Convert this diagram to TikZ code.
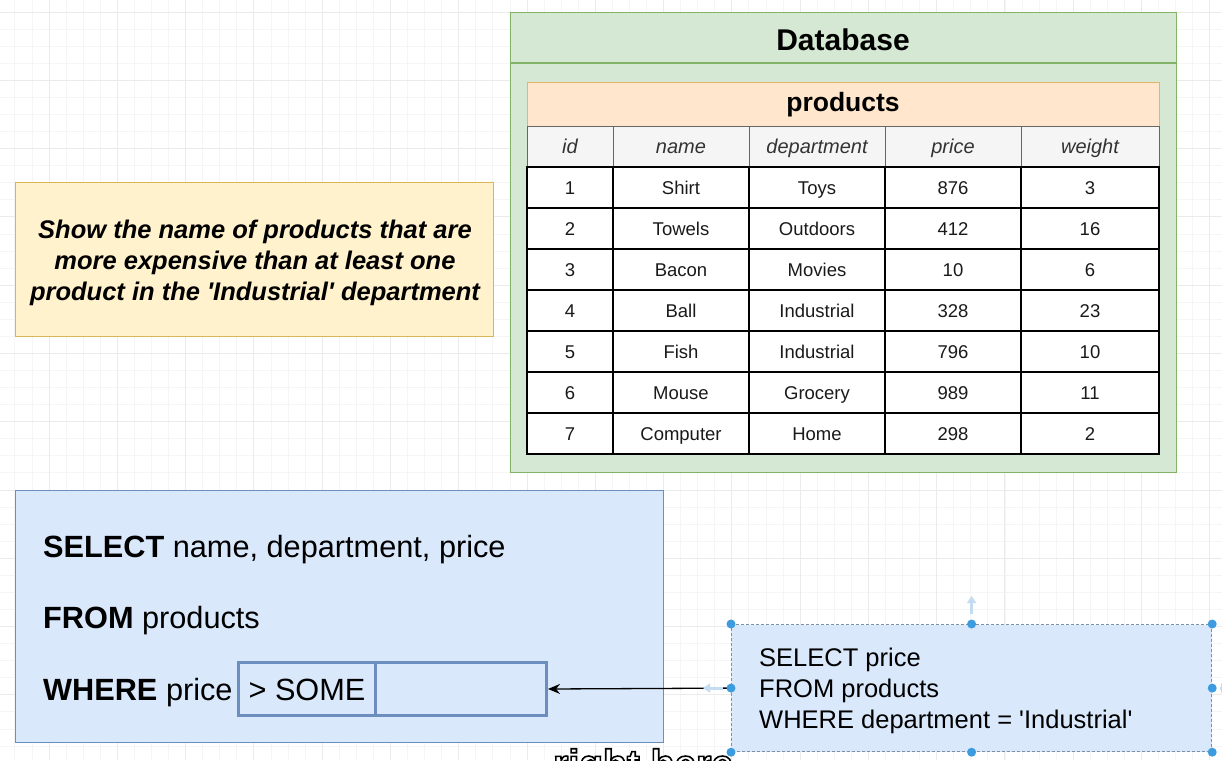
\documentclass[tikz,border=0pt]{standalone}
\usepackage{fontspec}
\setmainfont{Liberation Sans}[Ligatures=TeXOff]
\usetikzlibrary{arrows.meta}
\definecolor{dbfill}{HTML}{D5E8D4}
\definecolor{dbline}{HTML}{82B366}
\definecolor{prfill}{HTML}{FFE6CC}
\definecolor{prline}{HTML}{E3B46E}
\definecolor{yfill}{HTML}{FFF2CC}
\definecolor{yline}{HTML}{D6B656}
\definecolor{bfill}{HTML}{DAE8FC}
\definecolor{bline}{HTML}{6C8EBF}
\definecolor{hfill}{HTML}{F5F5F5}
\definecolor{hline}{HTML}{666666}
\definecolor{htext}{HTML}{333333}
\definecolor{dtext}{HTML}{1A1A1A}
\definecolor{handle}{HTML}{3D9BE0}
\definecolor{hover}{HTML}{C4DCF2}
\definecolor{gminor}{HTML}{F5F5F5}
\definecolor{gmajor}{HTML}{EBEBEB}
\definecolor{selline}{HTML}{7E8FA8}
\begin{document}
\begin{tikzpicture}[x=1pt,y=-1pt,
  box/.style={draw, rectangle, anchor=north west, inner sep=0pt, line width=1.2pt},
  hcell/.style={draw=hline, fill=hfill, line width=1pt, rectangle, inner sep=0pt,
    minimum height=41pt, text height=14.3pt, text depth=0pt, text=htext,
    font=\fontsize{20}{24}\selectfont\itshape},
  dcell/.style={draw=black, fill=white, line width=1.8pt, rectangle, inner sep=0pt,
    minimum height=41pt, text height=13.2pt, text depth=0pt, text=dtext,
    font=\fontsize{18.5}{22}\selectfont},
  qline/.style={anchor=west, inner sep=0pt, text height=22pt, text depth=0pt,
    font=\fontsize{30.7}{36}\selectfont},
  gridmin/.style={draw=gminor, line width=0.8pt},
  gridmaj/.style={draw=gmajor, line width=0.9pt},
  hov/.style={draw=hover, line width=3pt, -{Triangle[length=7pt,width=9pt]}}
]
\useasboundingbox (0,0) rectangle (1222,760);
\fill[white] (0,0) rectangle (1222,760);
% background grid
\foreach \k in {0,...,72} \draw[gridmin] ({-2.2+17.07*\k},0) -- ++(0,760);
\foreach \k in {0,...,45} \draw[gridmin] (0,{-5.07+17.07*\k}) -- ++(1222,0);
\foreach \k in {0,...,18} \draw[gridmaj] ({-19.28+68.28*\k},0) -- ++(0,760);
\foreach \k in {0,...,11} \draw[gridmaj] (0,{12+68.28*\k}) -- ++(1222,0);

% Database container
\node[box, fill=dbfill, draw=dbline, minimum width=666pt, minimum height=460pt] (db) at (510,12) {};
\draw[dbline, line width=1.2pt] ([yshift=-51pt]db.north west) -- ([yshift=-51pt]db.north east);
\node[inner sep=0pt, text height=21.5pt, text depth=0pt, font=\fontsize{30}{36}\selectfont\bfseries] (dbtitle) at (843,40) {Database};

% products table title
\node[box, fill=prfill, draw=prline, minimum width=632pt, minimum height=44pt] (prod) at (527,82) {};
\node[inner sep=0pt, font=\fontsize{26.5}{30}\selectfont\bfseries] (prodtitle) at (843,105) {products};

% header row
\foreach \cx/\cw/\t [count=\j] in {570/86/id, 681/136/name, 817/136/department, 953/136/price, 1090/138/weight}
  \node[hcell, minimum width=\cw pt] (h\j) at (\cx,146.5) {\t};

% data rows
\foreach \a/\b/\c/\d/\e [count=\i] in {1/Shirt/Toys/876/3, 2/Towels/Outdoors/412/16, 3/Bacon/Movies/10/6, 4/Ball/Industrial/328/23, 5/Fish/Industrial/796/10, 6/Mouse/Grocery/989/11, 7/Computer/Home/298/2}{
  \pgfmathsetmacro\yy{146.5+41*\i}
  \node[dcell, minimum width=86pt]  (r\i-1) at (570,\yy) {\a};
  \node[dcell, minimum width=136pt] (r\i-2) at (681,\yy) {\b};
  \node[dcell, minimum width=136pt] (r\i-3) at (817,\yy) {\c};
  \node[dcell, minimum width=136pt] (r\i-4) at (953,\yy) {\d};
  \node[dcell, minimum width=138pt] (r\i-5) at (1090,\yy) {\e};
}

% task description
\node[box, fill=yfill, draw=yline, minimum width=478pt, minimum height=154pt] (task) at (15,182) {};
\node[align=center, inner sep=0pt, font=\fontsize{25.5}{31}\selectfont\bfseries\itshape] (tasktext) at (255,263)
  {Show the name of products that are\\more expensive than at least one\\product in the 'Industrial' department};

% main query
\node[box, fill=bfill, draw=bline, minimum width=648pt, minimum height=252pt] (main) at (15,490) {};
\node[qline] (q1) at (43,546) {\textbf{SELECT} name, department, price};
\node[qline] (q2) at (43,617) {\textbf{FROM} products};
\node[qline] (q3) at (43,689) {\textbf{WHERE} price};
\node[box, draw=bline, line width=3pt, minimum width=137pt, minimum height=53pt,
  text height=22pt, text depth=0pt, font=\fontsize{30.7}{36}\selectfont] (op) at (237,661) {> SOME};
\node[box, draw=bline, line width=3pt, minimum width=171pt, minimum height=53pt] (slot) at (374,661) {};

% subquery
\node[box, fill=bfill, draw=selline, dash pattern=on 3pt off 2pt, line width=1.2pt,
  minimum width=480pt, minimum height=127pt] (sub) at (731,624) {};
\node[anchor=west, align=left, inner sep=0pt, font=\fontsize{25.5}{31}\selectfont] (subtext) at (759,691)
  {SELECT price\\FROM products\\WHERE department = 'Industrial'};

% connector
\draw[line width=1.3pt, -{Stealth[length=12pt,width=10pt]}] (sub.west) -- (slot.east);

% selection handles
\coordinate (uptip) at ([yshift=28pt]sub.north);
\coordinate (leftip) at ([xshift=-28pt]sub.west);
\coordinate (rightip) at ([xshift=16pt]sub.east);
\draw[hov] ([yshift=10pt]sub.north) -- (uptip);
\draw[hov] ([xshift=-8pt]sub.west) -- (leftip);
\draw[hov] ([xshift=8pt]sub.east) -- (rightip);
\draw[draw=hover, line width=2.2pt] ([xshift=11pt,yshift=14pt]sub.north east) arc[start angle=200, end angle=-60, radius=5pt];
\foreach \p in {north west, north, north east, west, east, south west, south, south east}
  \fill[handle] (sub.\p) circle (4.5pt);

% cut-off caption at the bottom edge (outlined letters)
\node[anchor=base west, inner sep=0pt, font=\fontsize{39}{44}\selectfont\bfseries] (caption) at (553,777)
  {\textcolor{white}{\special{pdf:literal direct 1.6 w 0 G 2 Tr}right here\special{pdf:literal direct 0 Tr}}};
\end{tikzpicture}
\end{document}
